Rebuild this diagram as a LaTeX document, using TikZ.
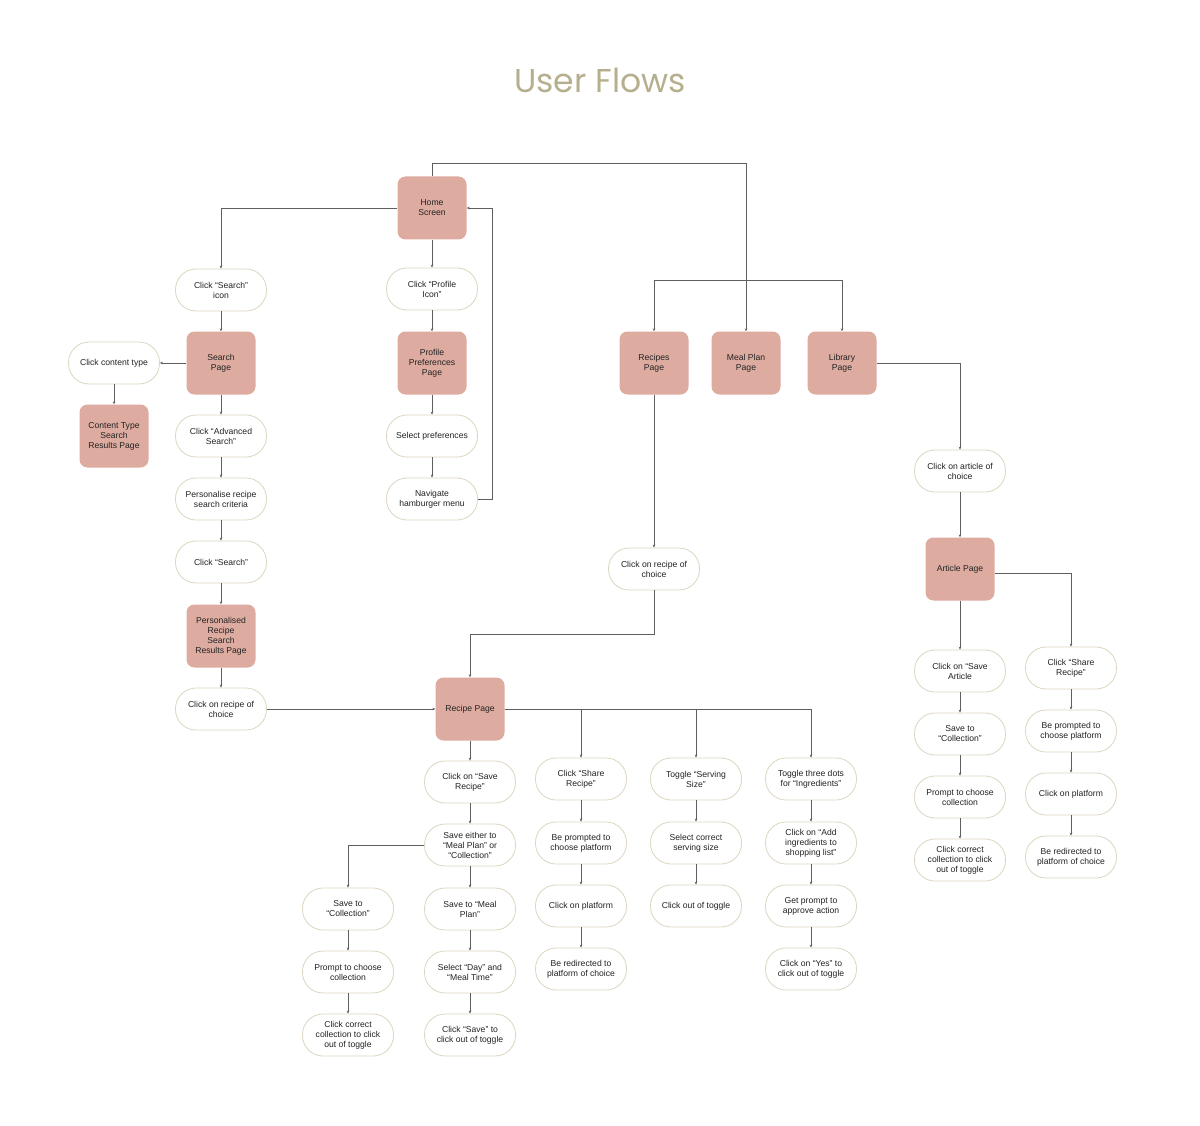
\documentclass[tikz,border=0pt]{standalone}
\usepackage{fontspec}
\setmainfont{Liberation Sans}
\newfontfamily\titlefont{Poppins}
\usetikzlibrary{arrows.meta}
\definecolor{pagepink}{RGB}{221,171,160}
\definecolor{pillborder}{RGB}{220,214,192}
\definecolor{titlecol}{RGB}{181,175,141}
\definecolor{linegray}{RGB}{95,95,95}
\definecolor{txt}{RGB}{35,35,35}
\tikzset{
  pagebox/.style={fill=pagepink, rounded corners=8pt, minimum width=69pt, minimum height=63pt, align=center, inner sep=1pt, text=txt, font=\fontsize{8.6}{10}\selectfont},
  actbox/.style={draw=pillborder, line width=0.8pt, fill=white, rounded corners=20.5pt, minimum width=91pt, minimum height=42pt, align=center, inner sep=1pt, text=txt, font=\fontsize{8.6}{10}\selectfont},
  arr/.style={draw=linegray, line width=0.7pt, -{Stealth[length=3pt,width=2.6pt]}},
}
\begin{document}
\begin{tikzpicture}[x=1pt,y=-1pt]
\useasboundingbox[fill=white] (0,0) rectangle (1200,1126);
\node[text=titlecol, font=\titlefont\fontsize{33}{38}\selectfont] (title) at (600,80) {User Flows};

% top level
\node[pagebox] (home) at (432,208) {Home\\Screen};
\node[actbox] (csearch) at (221,290) {Click “Search”\\icon};
\node[actbox] (cprofile) at (432,289) {Click “Profile\\Icon”};
\node[pagebox] (searchpage) at (221,363) {Search\\Page};
\node[pagebox] (profpage) at (432,363) {Profile\\Preferences\\Page};
\node[actbox] (ctype) at (114,363) {Click content type};
\node[pagebox] (ctyperes) at (114,436) {Content Type\\Search\\Results Page};
\node[actbox] (advsearch) at (221,436) {Click “Advanced\\Search”};
\node[actbox] (selpref) at (432,436) {Select preferences};
\node[actbox] (perscrit) at (221,499) {Personalise recipe\\search criteria};
\node[actbox] (navham) at (432,499) {Navigate\\hamburger menu};
\node[actbox] (csearch2) at (221,562) {Click “Search”};
\node[pagebox] (persres) at (221,636) {Personalised\\Recipe\\Search\\Results Page};
\node[actbox] (crecl) at (221,709) {Click on recipe of\\choice};

\node[pagebox] (recipes) at (654,363) {Recipes\\Page};
\node[pagebox] (mealplan) at (746,363) {Meal Plan\\Page};
\node[pagebox] (library) at (842,363) {Library\\Page};
\node[actbox] (crecm) at (654,569) {Click on recipe of\\choice};
\node[actbox] (carticle) at (960,471) {Click on article of\\choice};
\node[pagebox] (article) at (960,569) {Article Page};

\node[pagebox] (recipepage) at (470,709) {Recipe Page};
\node[actbox] (saverec) at (470,782) {Click on “Save\\Recipe”};
\node[actbox] (sharerec) at (581,779) {Click “Share\\Recipe”};
\node[actbox] (toggleserv) at (696,779) {Toggle “Serving\\Size”};
\node[actbox] (toggledots) at (811,779) {Toggle three dots\\for “Ingredients”};

\node[actbox] (saveeither) at (470,845) {Save either to\\“Meal Plan” or\\“Collection”};
\node[actbox] (beprompt) at (581,843) {Be prompted to\\choose platform};
\node[actbox] (selserv) at (696,843) {Select correct\\serving size};
\node[actbox] (addingr) at (811,843) {Click on “Add\\ingredients to\\shopping list”};

\node[actbox] (savecoll) at (348,909) {Save to\\“Collection”};
\node[actbox] (savemeal) at (470,909) {Save to “Meal\\Plan”};
\node[actbox] (cplatform) at (581,906) {Click on platform};
\node[actbox] (cout) at (696,906) {Click out of toggle};
\node[actbox] (getprompt) at (811,906) {Get prompt to\\approve action};

\node[actbox] (promptcoll) at (348,972) {Prompt to choose\\collection};
\node[actbox] (selday) at (470,972) {Select “Day” and\\“Meal Time”};
\node[actbox] (redirect) at (581,969) {Be redirected to\\platform of choice};
\node[actbox] (cyes) at (811,969) {Click on “Yes” to\\click out of toggle};

\node[actbox] (ccorrect) at (348,1035) {Click correct\\collection to click\\out of toggle};
\node[actbox] (csave) at (470,1035) {Click “Save” to\\click out of toggle};

\node[actbox] (savearticle) at (960,671) {Click on “Save\\Article};
\node[actbox] (sharea) at (1071,668) {Click “Share\\Recipe”};
\node[actbox] (savecolla) at (960,734) {Save to\\“Collection”};
\node[actbox] (bepromptA) at (1071,731) {Be prompted to\\choose platform};
\node[actbox] (promptcolla) at (960,797) {Prompt to choose\\collection};
\node[actbox] (cplatformA) at (1071,794) {Click on platform};
\node[actbox] (ccorrecta) at (960,860) {Click correct\\collection to click\\out of toggle};
\node[actbox] (redirectA) at (1071,857) {Be redirected to\\platform of choice};

% bend coordinates
\coordinate (topbend) at (746,163);
\coordinate (branch) at (746,280);
\coordinate (backtop) at (492,208);
\coordinate (mbend) at (654,634);
\coordinate (artout) at (995,573);

% connectors
\draw[arr] (home.west) -| (csearch.north);
\draw[arr] (home.south) -- (cprofile.north);
\draw[arr] (home.north) |- (topbend) -- (mealplan.north);
\draw[arr] (branch) -| (recipes.north);
\draw[arr] (branch) -| (library.north);

\draw[arr] (cprofile) -- (profpage);
\draw[arr] (profpage) -- (selpref);
\draw[arr] (selpref) -- (navham);
\draw[arr] (navham.east) -| (backtop) -- (home.east);

\draw[arr] (csearch) -- (searchpage);
\draw[arr] (searchpage.west) -- (ctype.east);
\draw[arr] (ctype) -- (ctyperes);
\draw[arr] (searchpage) -- (advsearch);
\draw[arr] (advsearch) -- (perscrit);
\draw[arr] (perscrit) -- (csearch2);
\draw[arr] (csearch2) -- (persres);
\draw[arr] (persres) -- (crecl);
\draw[arr] (crecl.east) -- (recipepage.west);

\draw[arr] (recipes) -- (crecm);
\draw[arr] (crecm.south) -- (mbend) -| (recipepage.north);

\draw[arr] (library.east) -| (carticle.north);
\draw[arr] (carticle) -- (article);
\draw[arr] (article) -- (savearticle);
\draw[arr] (artout) -| (sharea.north);
\draw[arr] (savearticle) -- (savecolla);
\draw[arr] (savecolla) -- (promptcolla);
\draw[arr] (promptcolla) -- (ccorrecta);
\draw[arr] (sharea) -- (bepromptA);
\draw[arr] (bepromptA) -- (cplatformA);
\draw[arr] (cplatformA) -- (redirectA);

\draw[arr] (recipepage) -- (saverec);
\draw[arr] (recipepage.east) -| (sharerec.north);
\draw[arr] (recipepage.east) -| (toggleserv.north);
\draw[arr] (recipepage.east) -| (toggledots.north);

\draw[arr] (saverec) -- (saveeither);
\draw[arr] (saveeither) -- (savemeal);
\draw[arr] (saveeither.west) -| (savecoll.north);
\draw[arr] (savecoll) -- (promptcoll);
\draw[arr] (promptcoll) -- (ccorrect);
\draw[arr] (savemeal) -- (selday);
\draw[arr] (selday) -- (csave);

\draw[arr] (sharerec) -- (beprompt);
\draw[arr] (beprompt) -- (cplatform);
\draw[arr] (cplatform) -- (redirect);

\draw[arr] (toggleserv) -- (selserv);
\draw[arr] (selserv) -- (cout);

\draw[arr] (toggledots) -- (addingr);
\draw[arr] (addingr) -- (getprompt);
\draw[arr] (getprompt) -- (cyes);
\end{tikzpicture}
\end{document}
